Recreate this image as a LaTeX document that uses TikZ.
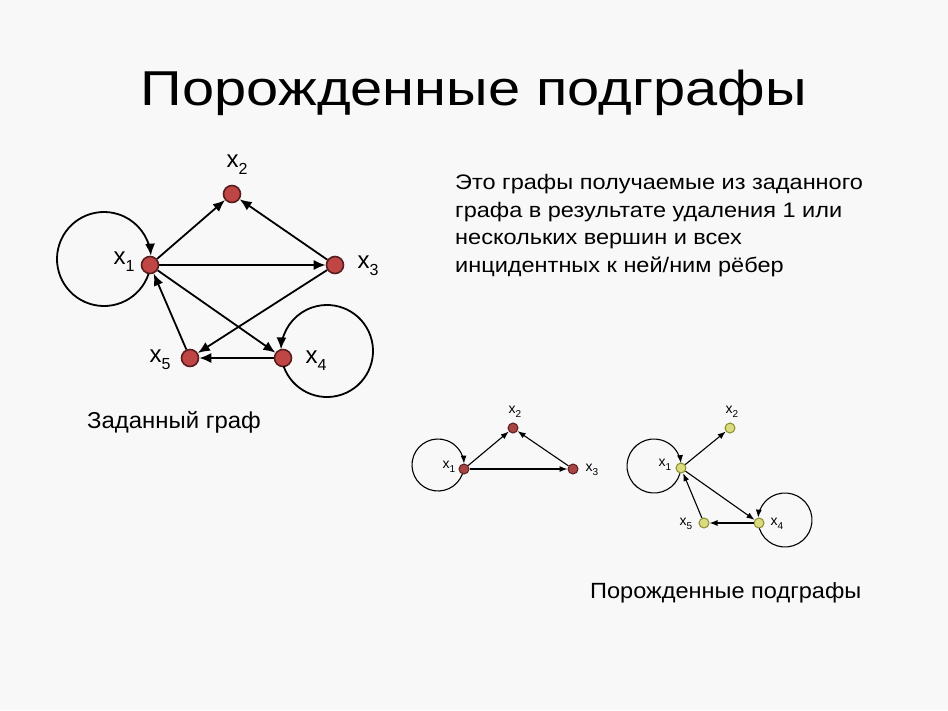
\documentclass[tikz,border=0pt]{standalone}
\usepackage{fontspec}
\setmainfont{Liberation Sans}
\usetikzlibrary{arrows.meta,calc}
\definecolor{bg}{HTML}{F8F8F8}
\definecolor{redfill}{HTML}{C04646}
\definecolor{redline}{HTML}{5A1E1E}
\definecolor{redfillb}{HTML}{A84444}
\definecolor{yelfill}{HTML}{D9DC7E}
\definecolor{yelline}{HTML}{8C8C2E}
\newcommand{\vx}[3]{{\fontsize{#1}{#1}\selectfont x\raisebox{-0.3em}{\fontsize{#2}{#2}\selectfont #3}}}
\newcommand{\wtxt}[3]{\scalebox{#1}[1]{\fontsize{#2}{#2}\selectfont #3}}
\tikzset{
  bignode/.style={circle,draw=redline,line width=1.6pt,fill=redfill,inner sep=0pt,minimum size=17pt},
  smallred/.style={circle,draw=redline,line width=1pt,fill=redfillb,inner sep=0pt,minimum size=10pt},
  smallyel/.style={circle,draw=yelline,line width=1pt,fill=yelfill,inner sep=0pt,minimum size=10pt},
  bigarr/.style={line width=1.8pt,-{Latex[length=12pt,width=10pt]}},
  smallarr/.style={line width=1.1pt,-{Latex[length=8pt,width=6pt]}},
  bigloop/.style={line width=1.8pt},
  smallloop/.style={line width=1.1pt},
  lbl/.style={inner sep=0pt},
  txt/.style={anchor=base west,inner sep=0pt},
}
\begin{document}
\begin{tikzpicture}[x=1pt,y=-1pt]
\fill[bg] (0,0) rectangle (948,710);
\useasboundingbox (0,0) rectangle (948,710);

% title
\node[anchor=base,inner sep=0pt] (title) at (474,105) {\wtxt{1.18}{49}{Порожденные подграфы}};

% paragraph
\node[txt] (p1) at (455,189) {\wtxt{1.12}{21}{Это графы получаемые из заданного}};
\node[txt] (p2) at (455,217) {\wtxt{1.12}{21}{графа в результате удаления 1 или}};
\node[txt] (p3) at (455,244) {\wtxt{1.12}{21}{нескольких вершин и всех}};
\node[txt] (p4) at (455,272) {\wtxt{1.12}{21}{инцидентных к ней/ним рёбер}};

\node[txt] (cap1) at (87,428) {\wtxt{1.04}{23}{Заданный граф}};
\node[txt] (cap2) at (590,598) {\wtxt{1.07}{22}{Порожденные подграфы}};

% ---- main graph
\node[bignode] (a1) at (150,265) {};
\node[bignode] (a2) at (232,194) {};
\node[bignode] (a3) at (335,265) {};
\node[bignode] (a4) at (283,358) {};
\node[bignode] (a5) at (190,358) {};
\node[lbl] (la1) at (124,262) {\vx{24}{16}{1}};
\node[lbl] (la2) at (237,165) {\vx{24}{16}{2}};
\node[lbl] (la3) at (368,266) {\vx{24}{16}{3}};
\node[lbl] (la4) at (316,361) {\vx{24}{16}{4}};
\node[lbl] (la5) at (160,360) {\vx{24}{16}{5}};

\draw[bigarr] (a1) -- (a2);
\draw[bigarr] (a3) -- (a2);
\draw[bigarr] (a1) -- (a3);
\draw[bigarr] (a3) -- (a5);
\draw[bigarr] (a1) -- (a4);
\draw[bigarr] (a5) -- (a1);
\draw[bigarr] (a4) -- (a5);
\path (a1) ++(-46,-6) coordinate (ca1);
\draw[bigloop] ($(ca1)+(18:47)$) arc[start angle=18,end angle=345,radius=47];
\draw[bigarr] ($(ca1)+(340:47)$) arc[start angle=340,end angle=356,radius=47];
\path (a4) ++(44,-7) coordinate (ca4);
\draw[bigloop] ($(ca4)+(161:46)$) arc[start angle=161,end angle=-167,radius=46];
\draw[bigarr] ($(ca4)+(-162:46)$) arc[start angle=-162,end angle=-178,radius=46];

% ---- subgraph 1
\node[smallred] (b1) at (464,469) {};
\node[smallred] (b2) at (513,428) {};
\node[smallred] (b3) at (573,469) {};
\node[lbl] (lb1) at (449,467) {\vx{14}{10}{1}};
\node[lbl] (lb2) at (515,412) {\vx{14}{10}{2}};
\node[lbl] (lb3) at (592,470) {\vx{14}{10}{3}};
\draw[smallarr] (b1) -- (b2);
\draw[smallarr] (b3) -- (b2);
\draw[smallarr] (b1) -- (b3);
\path (b1) ++(-26,-4) coordinate (cb1);
\draw[smallloop] ($(cb1)+(20:26)$) arc[start angle=20,end angle=345,radius=26];
\draw[smallarr] ($(cb1)+(340:26)$) arc[start angle=340,end angle=357,radius=26];

% ---- subgraph 2
\node[smallyel] (d1) at (681,468) {};
\node[smallyel] (d2) at (730,428) {};
\node[smallyel] (d4) at (759,523) {};
\node[smallyel] (d5) at (704,523) {};
\node[lbl] (ld1) at (665,465) {\vx{14}{10}{1}};
\node[lbl] (ld2) at (732,412) {\vx{14}{10}{2}};
\node[lbl] (ld4) at (777,524) {\vx{14}{10}{4}};
\node[lbl] (ld5) at (686,524) {\vx{14}{10}{5}};
\draw[smallarr] (d1) -- (d2);
\draw[smallarr] (d1) -- (d4);
\draw[smallarr] (d5) -- (d1);
\draw[smallarr] (d4) -- (d5);
\path (d1) ++(-27,-2) coordinate (cd1);
\draw[smallloop] ($(cd1)+(16:27)$) arc[start angle=16,end angle=345,radius=27];
\draw[smallarr] ($(cd1)+(340:27)$) arc[start angle=340,end angle=354,radius=27];
\path (d4) ++(26,-3) coordinate (cd4);
\draw[smallloop] ($(cd4)+(162:27)$) arc[start angle=162,end angle=-165,radius=27];
\draw[smallarr] ($(cd4)+(-160:27)$) arc[start angle=-160,end angle=-175,radius=27];
\end{tikzpicture}
\end{document}
